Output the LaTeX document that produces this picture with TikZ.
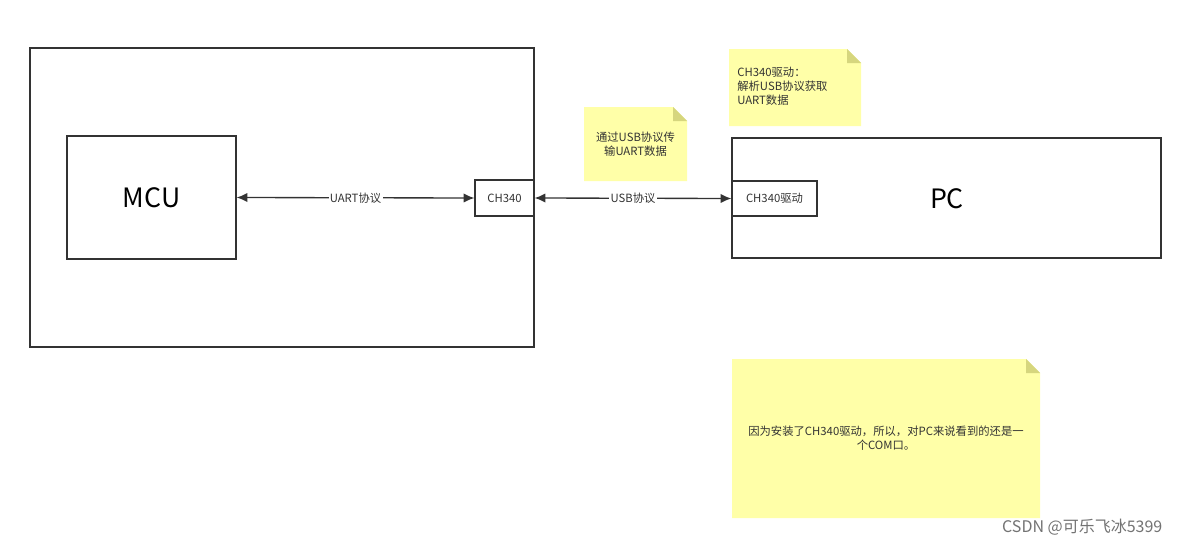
\documentclass[tikz,border=0pt]{standalone}
\usepackage{fontspec}
\setmainfont{Noto Sans CJK SC}
\usetikzlibrary{arrows.meta}
\definecolor{notef}{HTML}{FFFFA8}
\definecolor{foldc}{HTML}{D6D67E}
\definecolor{txt}{HTML}{333333}
\tikzset{
  box/.style={draw=black!80,line width=1pt,fill=white},
  conn/.style={line width=1pt,black!80,{Latex[length=8pt,width=7pt]}-{Latex[length=8pt,width=7pt]}},
  lbl/.style={fill=white,inner sep=1pt,font=\fontsize{8.5}{10.5}\selectfont,text=txt},
  small/.style={font=\fontsize{8.5}{10.5}\selectfont,text=txt,align=center},
}
\newcommand{\stickynote}[5]{% x1 y1 x2 y2 name
  \fill[notef] (#1,#2) -- (#3-14,#2) -- (#3,#2+14) -- (#3,#4) -- (#1,#4) -- cycle;
  \fill[foldc] (#3-14,#2) -- (#3,#2+14) -- (#3-14,#2+14) -- cycle;
  \coordinate (#5) at ({(#1+#3)/2},{(#2+#4)/2});
}
\begin{document}
\begin{tikzpicture}[x=0.75pt,y=-0.75pt]
\useasboundingbox (0,0) rectangle (1181,546);
\fill[white] (0,0) rectangle (1181,546);
\draw[box] (30,48) rectangle (534,347);
\node[box,minimum width=169*0.75pt,minimum height=123*0.75pt,font=\fontsize{20}{23}\selectfont] (mcu) at (151.5,197.5) {MCU};
\node[box,minimum width=59*0.75pt,minimum height=36*0.75pt,small,inner sep=0pt] (ch) at (504.5,198) {CH340};
\draw[box] (732,138) rectangle (1161,258);
\node[font=\fontsize{20}{23}\selectfont] (pc) at (947,199) {PC};
\node[box,minimum width=85*0.75pt,minimum height=35*0.75pt,small,inner sep=0pt] (drv) at (774.5,198.5) {CH340驱动};
\draw[conn] (mcu.east) -- node[lbl] {UART协议} (ch.west);
\draw[conn] (ch.east) -- node[lbl] {USB协议} (drv.west);
\stickynote{584}{107}{687}{181}{n1}
\node[small] (t1) at (n1) {通过USB协议传\\输UART数据};
\stickynote{729}{49}{861}{126}{n2}
\node[small,align=left,anchor=north west,inner sep=0pt] (t2) at (737,67) {CH340驱动：\\解析USB协议获取\\UART数据};
\stickynote{732}{359}{1040}{518}{n3}
\node[small,align=center] (t3) at (n3) {因为安装了CH340驱动，所以，对PC来说看到的还是一\\个COM口。};
\node[font=\fontsize{12}{14}\selectfont,text=black!55,anchor=east] (wm) at (1167,527) {CSDN @可乐飞冰5399};
\end{tikzpicture}
\end{document}
